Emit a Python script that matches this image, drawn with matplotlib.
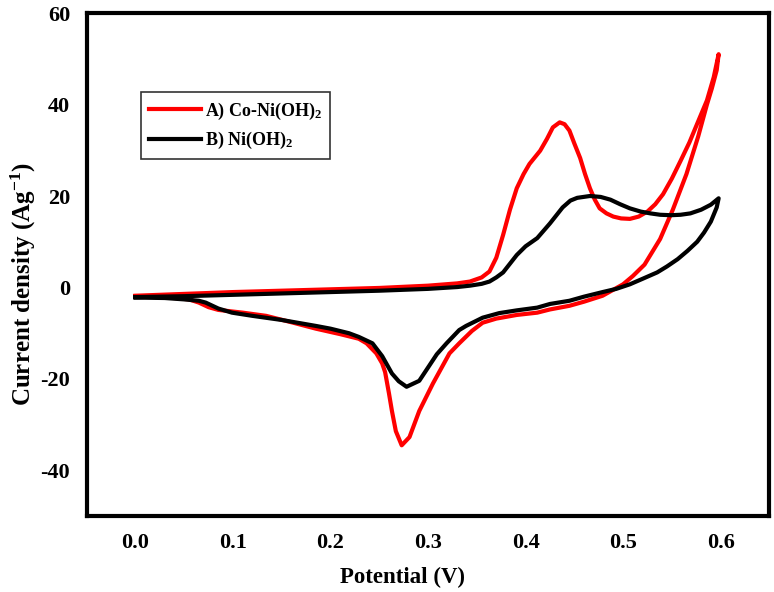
import matplotlib
matplotlib.use("Agg")
import matplotlib.pyplot as plt

# Co-Ni(OH)2 loop: forward scan 0 -> 0.6 V, then reverse back to 0
red_x = [0.000, 0.05, 0.10, 0.15, 0.20, 0.25, 0.30, 0.33, 0.343, 0.355, 0.363, 0.370,
         0.377, 0.384, 0.391, 0.398, 0.404, 0.415, 0.422, 0.428, 0.435, 0.440, 0.445,
         0.450, 0.456, 0.461, 0.466, 0.471, 0.476, 0.483, 0.490, 0.498, 0.507, 0.516,
         0.525, 0.533, 0.541, 0.550, 0.559, 0.568, 0.576, 0.586, 0.593, 0.598,
         0.596, 0.591, 0.586, 0.577, 0.565, 0.551, 0.538, 0.522, 0.510, 0.500, 0.479,
         0.460, 0.445, 0.425, 0.412, 0.391, 0.370, 0.356, 0.345, 0.332, 0.322, 0.305,
         0.291, 0.281, 0.273, 0.267, 0.263, 0.260, 0.256, 0.253, 0.247, 0.237, 0.229,
         0.210, 0.185, 0.160, 0.134, 0.110, 0.085, 0.075, 0.065, 0.055, 0.04, 0.02, 0.0]
red_y = [-1.8, -1.4, -1.0, -0.7, -0.4, -0.1, 0.4, 0.9, 1.3, 2.2, 3.5, 6.5,
         11.5, 17.0, 21.7, 24.8, 27.0, 29.9, 32.5, 35.0, 36.1, 35.7, 34.3,
         31.5, 28.3, 24.8, 21.7, 19.2, 17.3, 16.2, 15.5, 15.1, 15.0, 15.5,
         16.6, 18.2, 20.4, 23.8, 27.7, 31.7, 35.8, 40.9, 46.0, 51.0,
         47.5, 43.5, 40.0, 33.0, 24.8, 17.0, 10.6, 5.0, 2.5, 0.7, -1.8,
         -3.1, -4.0, -4.8, -5.5, -6.0, -6.8, -7.7, -9.5, -12.2, -14.4, -21.0,
         -27.0, -32.7, -34.5, -31.4, -27.0, -23.2, -18.5, -16.6, -14.4, -12.2, -11.2,
         -10.2, -9.0, -7.6, -6.2, -5.5, -4.9, -4.3, -3.3, -2.6, -2.3, -2.1, -1.9]

# Ni(OH)2 loop
black_x = [0.0, 0.05, 0.10, 0.15, 0.20, 0.25, 0.30, 0.33, 0.343, 0.355, 0.363, 0.370,
           0.377, 0.384, 0.391, 0.400, 0.412, 0.425, 0.438, 0.446, 0.453, 0.466, 0.477,
           0.487, 0.497, 0.507, 0.518, 0.528, 0.538, 0.549, 0.559, 0.569, 0.580, 0.590, 0.598,
           0.596, 0.590, 0.583, 0.576, 0.566, 0.556, 0.545, 0.535, 0.520, 0.507, 0.493,
           0.479, 0.460, 0.445, 0.425, 0.412, 0.391, 0.373, 0.356, 0.339, 0.332, 0.319,
           0.309, 0.291, 0.278, 0.270, 0.263, 0.253, 0.243, 0.229, 0.219, 0.200, 0.185,
           0.150, 0.120, 0.099, 0.085, 0.079, 0.072, 0.065, 0.05, 0.03, 0.0]
black_y = [-2.1, -1.9, -1.6, -1.3, -1.0, -0.7, -0.3, 0.1, 0.4, 0.8, 1.3, 2.2,
           3.3, 5.2, 7.1, 9.0, 10.8, 14.0, 17.5, 19.0, 19.6, 20.0, 19.8,
           19.2, 18.2, 17.3, 16.6, 16.2, 15.9, 15.8, 15.9, 16.2, 17.0, 18.1, 19.5,
           17.5, 14.4, 12.0, 10.0, 8.0, 6.2, 4.6, 3.3, 1.9, 0.7, -0.3,
           -1.0, -2.0, -2.9, -3.6, -4.4, -5.0, -5.6, -6.6, -8.4, -9.3, -12.2,
           -14.6, -20.4, -21.7, -20.5, -18.8, -15.0, -12.2, -10.8, -10.0, -9.0, -8.4,
           -7.1, -6.2, -5.5, -4.6, -4.0, -3.3, -2.9, -2.6, -2.3, -2.2]

xticks = [0.0, 0.1, 0.2, 0.3, 0.4, 0.5, 0.6]
yticks = [-40, -20, 0, 20, 40, 60]

plt.rcParams['font.family'] = ['Liberation Serif', 'DejaVu Serif']
plt.rcParams['font.weight'] = 'bold'
plt.rcParams['axes.unicode_minus'] = False
plt.rcParams['mathtext.fontset'] = 'custom'
plt.rcParams['mathtext.rm'] = 'Liberation Serif:bold'
plt.rcParams['mathtext.default'] = 'rm'

fig = plt.figure(figsize=(7.74, 5.92), dpi=100)
ax = fig.add_axes([0.112, 0.128, 0.882, 0.850])

ax.plot(red_x, red_y, color='#ff0000', lw=3, label='A) Co-Ni(OH)$_2$')
ax.plot(black_x, black_y, color='black', lw=3, label='B) Ni(OH)$_2$')

ax.set_xlim(-0.05, 0.65)
ax.set_ylim(-50, 60)
ax.set_xticks(xticks)
ax.set_xticklabels(['%.1f' % v for v in xticks])
ax.set_yticks(yticks)
ax.tick_params(length=0, labelsize=16, pad=12)
for sp in ax.spines.values():
    sp.set_linewidth(3)

ax.set_xlabel('Potential (V)', fontsize=16.5, fontweight='bold')
ax.set_ylabel('Current density (Ag$^{-1}$)', fontsize=18, fontweight='bold')
# labels sit slightly off-centre in the original
ax.xaxis.set_label_coords(0.462, -0.121)
ax.yaxis.set_label_coords(-0.093, 0.461)
ax.xaxis.label.set_va('center')
ax.yaxis.label.set_va('center')

leg = ax.legend(loc='upper left', bbox_to_anchor=(0.066, 0.86), fontsize=13,
                fancybox=False, edgecolor='black', handlelength=2.9,
                borderpad=0.45, labelspacing=0.45, handletextpad=0.2)
leg.get_frame().set_linewidth(1.2)

fig.savefig('out.png', dpi=100)
